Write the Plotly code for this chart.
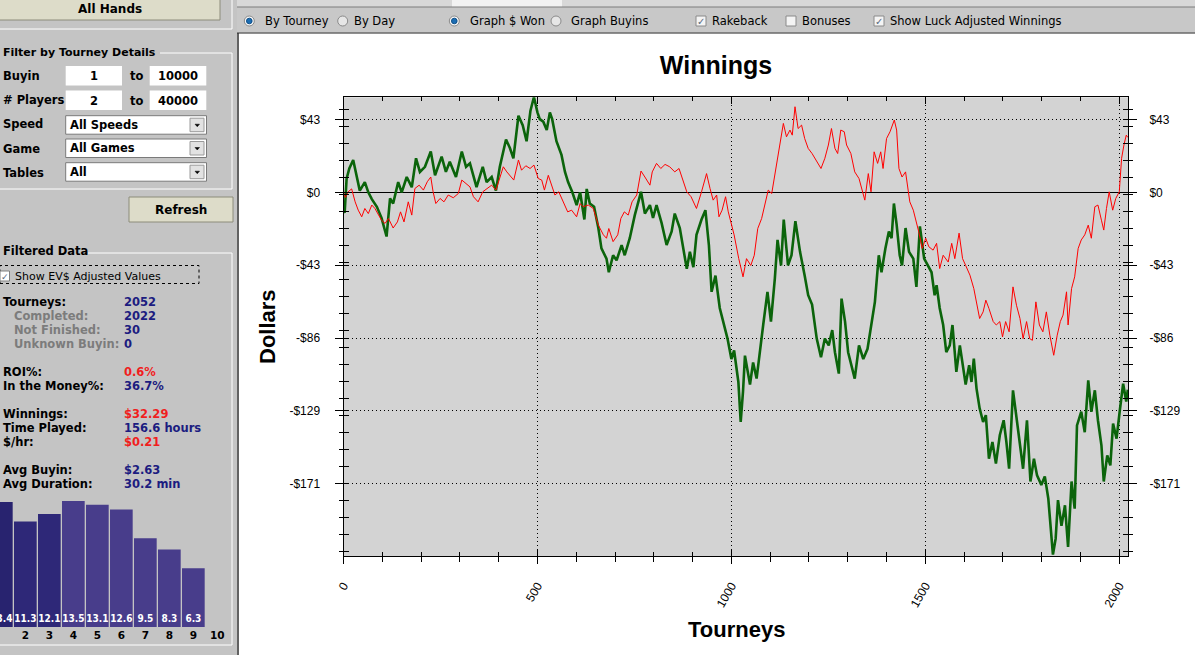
import plotly.graph_objects as go

W, H = 1195, 655

luck_x = [0, 3, 8, 15, 25, 32, 42, 55, 64, 73, 86, 98, 111, 120, 128, 141, 150, 163, 176, 187,
          197, 210, 225, 236, 253, 264, 274, 290, 305, 316, 326, 343, 359, 369, 382, 393, 403, 419, 429, 438,
          451, 462, 472, 482, 491, 500, 506, 515, 524, 532, 538, 549, 562, 571, 579, 590, 601, 610, 621, 627,
          635, 646, 657, 665, 678, 684, 695, 704, 717, 725, 738, 751, 767, 777, 790, 798, 807, 820, 833, 846,
          854, 867, 885, 893, 902, 910, 923, 933, 942, 949, 959, 970, 979, 990, 1000, 1007, 1018, 1024, 1030, 1035,
          1048, 1056, 1065, 1073, 1082, 1093, 1102, 1112, 1119, 1128, 1135, 1146, 1155, 1165, 1177, 1189, 1198, 1208, 1220, 1231,
          1241, 1251, 1260, 1267, 1277, 1284, 1293, 1301, 1311, 1318, 1329, 1340, 1351, 1361, 1370, 1380, 1387, 1397, 1406, 1413,
          1419, 1426, 1434, 1440, 1449, 1458, 1469, 1477, 1486, 1497, 1506, 1516, 1524, 1529, 1537, 1546, 1554, 1563, 1570, 1580,
          1589, 1597, 1604, 1613, 1619, 1625, 1632, 1640, 1649, 1656, 1664, 1673, 1682, 1692, 1702, 1709, 1716, 1726, 1737, 1744,
          1752, 1762, 1771, 1780, 1788, 1799, 1808, 1817, 1823, 1829, 1836, 1842, 1851, 1860, 1868, 1877, 1885, 1891, 1902, 1911,
          1920, 1928, 1937, 1945, 1954, 1960, 1969, 1977, 1984, 1993, 2001, 2010, 2018, 2022]
luck_y = [-11, -12, 8, 14, 19, 12, 1, 6, 0, -4, -8.5, -15, -26, -3.6, -6.6, 6, 0, 9, 3, 20,
          12, 15, 24, 10, 21, 12, 18, 9, 24, 15, 17, 3, 15, 6, 9, 1, 15, 31, 26, 20,
          45, 39.5, 30, 48, 56, 47, 43, 41.5, 36.6, 47, 43, 30, 22, 12, 6, 0, -7.5, 0, -16, 2,
          -6.6, -8.5, -21, -33, -39, -47, -37, -40, -31, -37, -27, -13.4, 0.3, -12.5, -7.5, -15, -7.5, -18, -31, -23,
          -12.5, -21, -45, -35, -44, -25, -16, -10.5, -31, -58.5, -49, -68, -76, -86, -98, -93, -111.5, -135, -117, -96,
          -113, -100, -109.5, -96, -78, -58.5, -76, -50.7, -28, -43, -16, -43, -37, -17, -35, -49, -60.5, -66, -86, -97,
          -86, -90, -81, -94, -106.6, -62.5, -76, -94, -103.6, -109.5, -90, -98, -92, -78, -64.4, -37, -47, -33, -23, -27,
          -6.6, -19, -37, -43, -21, -35, -39, -55.6, -20, -39, -43, -47, -60.5, -54.6, -68, -78, -94, -90, -78, -105.6,
          -90, -103.6, -113, -101.6, -111.5, -97.8, -115.4, -127, -135, -131, -156.6, -146.8, -159.5, -142.8, -134, -146.8, -162.5, -116.4, -137, -148.7,
          -162.5, -134, -170, -156.6, -166.4, -172, -167, -180, -196, -213, -203.6, -181, -196, -184, -208.5, -170, -186, -137, -129, -141,
          -110.5, -129, -116.4, -134, -148.7, -170, -154.6, -160.5, -136, -144.8, -129, -112.5, -123, -116]

won_x = [0, 5, 12, 21, 30, 38, 47, 55, 64, 73, 81, 90, 98, 107, 116, 128, 139, 147, 156, 167,
         176, 184, 195, 206, 216, 225, 231, 238, 249, 259, 270, 283, 296, 305, 316, 326, 335, 347, 359, 369,
         382, 393, 402, 412, 421, 431, 439, 451, 459, 470, 481, 491, 502, 511, 518, 528, 537, 545, 555, 567,
         578, 588, 601, 610, 618, 631, 644, 657, 670, 678, 684, 695, 707, 715, 724, 734, 744, 756, 767, 777,
         790, 796, 807, 818, 829, 841, 854, 865, 873, 885, 896, 910, 923, 936, 945, 953, 962, 968, 976, 985,
         992, 1000, 1007, 1019, 1030, 1039, 1050, 1059, 1068, 1078, 1086, 1095, 1104, 1112, 1121, 1129, 1134, 1142, 1151, 1157,
         1164, 1172, 1181, 1189, 1198, 1208, 1220, 1231, 1241, 1250, 1258, 1267, 1274, 1282, 1291, 1297, 1308, 1318, 1329, 1336,
         1344, 1353, 1360, 1368, 1377, 1385, 1391, 1400, 1409, 1420, 1426, 1432, 1440, 1449, 1456, 1460, 1469, 1477, 1483, 1492,
         1501, 1509, 1520, 1529, 1537, 1546, 1559, 1568, 1576, 1587, 1596, 1604, 1615, 1625, 1632, 1640, 1649, 1656, 1664, 1675,
         1683, 1692, 1699, 1707, 1716, 1726, 1735, 1744, 1752, 1761, 1769, 1776, 1785, 1794, 1803, 1812, 1821, 1831, 1840, 1848,
         1855, 1864, 1868, 1877, 1885, 1894, 1902, 1911, 1920, 1928, 1937, 1945, 1954, 1960, 1967, 1974, 1983, 1991, 2000, 2006,
         2012, 2018, 2022]
won_y = [0, -3, 0.3, 2, -5.6, -10.5, -14.4, -9.5, -12.5, -7.5, -9.5, -13.4, -16.4, -18.3, -15.4, -21, -17.4, -11.5, -17.4, -5.6,
         -13.4, 2.2, 4.2, 1.3, 6.2, 9, 0.3, -6.6, -3.6, -5.6, -1.6, -3.2, -0.7, 7.2, 5.2, 3.2, -2.6, -5.6, 0.3, 2.2,
         4.2, 1.3, 8.5, 15, 12, 9, 7.2, 19, 13, 15.6, 14, 16, 8.1, 7.2, 1.3, 10, 4.2, -1.6, 0.3, -5.6,
         -11.5, -10.5, -14.4, -6.6, -8.5, -7.5, -9.5, -19.3, -25, -27, -21.3, -29, -25, -15.4, -11.5, -13.4, -5.6, -1.6, 12.5, 9,
         4.2, 12, 17, 14, 16.4, 15, 12, 14, 8.1, 0.3, -2.6, -9.5, 0.3, 11, 2.2, -4.6, -1.6, -14.4, -10.5, -2.6,
         -11.5, -19.3, -25, -39, -49.7, -39, -43, -37, -21.3, -15.4, -7.5, 1.3, -0.7, 10, 22.8, 31.6, 40.5, 32.6, 36.6, 33.6,
         50.3, 37.5, 39.5, 31.6, 25.8, 22.8, 18, 14, 20, 27.8, 37.5, 25.8, 22.8, 36.6, 35.6, 27.8, 22.8, 12, 8.1, 2.2,
         -4.6, 11, 0.3, 23.8, 17, 23.8, 14, 31.6, 35.6, 42.5, 36.6, 14, 9, 12, 0.3, -5.6, -10.5, -17.4, -23.2, -33,
         -27, -32, -34, -30, -44.8, -37, -41, -30, -39, -24, -39, -43, -48.7, -56.6, -64.4, -74.2, -70.3, -63.4, -68.3, -76,
         -78, -76, -85, -76, -82, -55.6, -66.4, -74.2, -86, -76, -86, -87, -64.4, -78, -82, -70.3, -84, -95.8, -84, -76,
         -72.2, -58.5, -78, -56.6, -49.7, -33, -28, -25, -19.3, -27, -8.5, -7.5, -16.4, -22.2, -9.5, 0.3, -10.5, -3.6, 0.3, 20,
         27.8, 33.6, 32.3]

x_ticks = [0, 500, 1000, 1500, 2000]
y_step = 42.85
y_ticks = [y_step, 0, -y_step, -2 * y_step, -3 * y_step, -4 * y_step]
y_labels = ['$43', '$0', '-$43', '-$86', '-$129', '-$171']

# finishing position histogram (percent) in the side panel
place = [1, 2, 3, 4, 5, 6, 7, 8, 9]
place_pct = [13.4, 11.3, 12.1, 13.5, 13.1, 12.6, 9.5, 8.3, 6.3]

stats = [
    ('Tourneys:', '2052', '#1c1c80', 302, 0.5),
    ('Completed:', '2022', '#1c1c80', 316, 12),
    ('Not Finished:', '30', '#1c1c80', 330, 12),
    ('Unknown Buyin:', '0', '#1c1c80', 344, 12),
    ('ROI%:', '0.6%', '#f01e1e', 372, 0.5),
    ('In the Money%:', '36.7%', '#1c1c80', 386, 0.5),
    ('Winnings:', '$32.29', '#f01e1e', 414, 0.5),
    ('Time Played:', '156.6 hours', '#1c1c80', 428, 0.5),
    ('$/hr:', '$0.21', '#f01e1e', 442, 0.5),
    ('Avg Buyin:', '$2.63', '#1c1c80', 470, 0.5),
    ('Avg Duration:', '30.2 min', '#1c1c80', 484, 0.5),
]


def px(x):
    return x / W


def py(y):
    return 1 - y / H


shapes = []
annotations = []


def rect(x0, y0, x1, y1, fill, line=None, lw=1, dash='solid'):
    shapes.append(dict(type='rect', xref='paper', yref='paper', layer='below',
                       x0=px(x0), x1=px(x1), y0=py(y1), y1=py(y0), fillcolor=fill,
                       line=dict(color=line if line else fill, width=lw if line else 0, dash=dash)))


def seg(x0, y0, x1, y1, color, lw=1):
    shapes.append(dict(type='line', xref='paper', yref='paper', layer='below',
                       x0=px(x0), x1=px(x1), y0=py(y0), y1=py(y1), line=dict(color=color, width=lw)))


def circle(cx, cy, r, fill, line, lw=1):
    shapes.append(dict(type='circle', xref='paper', yref='paper', layer='below',
                       x0=px(cx - r), x1=px(cx + r), y0=py(cy + r), y1=py(cy - r),
                       fillcolor=fill, line=dict(color=line, width=lw)))


def label(x, y, s, size=11.5, color='black', anchor='left', bold=True, family='DejaVu Sans'):
    annotations.append(dict(x=px(x), y=py(y), xref='paper', yref='paper', text=s, showarrow=False,
                            xanchor=anchor, yanchor='middle',
                            font=dict(family=family, size=size, color=color,
                                      weight='bold' if bold else 'normal')))


panel = '#c4c4c4'
# side panel and toolbar backgrounds
rect(0, 0, 237, 655, panel)
rect(237, 0, 1195, 33, '#c8c8c8')
rect(237, 0, 1195, 7, '#d8d8d8')
rect(452, 0, 562, 7, '#f2f2f2')
seg(237, 7, 1195, 7, '#7c7c7c')
seg(237, 33, 1195, 33, '#6a6a6a', 1.5)
seg(238, 33, 238, 655, '#2e2e2e', 1.5)

# toolbar radio buttons / check boxes
for cx, on in [(249.3, True), (342.7, False), (454.3, True), (556, False)]:
    circle(cx, 21, 5, '#f4f4f4' if on else '#e6e6e6', '#8a8a8a')
    if on:
        circle(cx, 21, 2.8, '#1b6db3', '#0f4f88')
for s, x in [('By Tourney', 262.5), ('By Day', 352), ('Graph $ Won', 467.5), ('Graph Buyins', 568.5)]:
    label(x, 21, s, bold=False)
for x0, on, s in [(696, True, 'Rakeback'), (786, False, 'Bonuses'), (874, True, 'Show Luck Adjusted Winnings')]:
    rect(x0, 16, x0 + 10, 26, '#f4f4f4', '#8a8a8a')
    if on:
        label(x0 + 5, 21.5, '✓', size=10, color='#5a6a80', anchor='center', bold=False)
    label(x0 + 14, 21, s, bold=False)

# left panel: buttons and filter box
rect(-2, -2, 220, 20, '#dddcc9', '#8c8c7a')
label(110, 9, 'All Hands', size=12, anchor='center')
seg(232, 0, 232, 29, 'white')
seg(0, 29, 232, 29, 'white')

label(0.5, 52, 'Filter by Tourney Details', size=11)
seg(160, 53, 232, 53, 'white')
seg(232, 53, 232, 189, 'white')
seg(0, 189, 232, 189, 'white')
for s, y in [('Buyin', 76), ('# Players', 100), ('Speed', 124), ('Game', 149), ('Tables', 173)]:
    label(0.5, y, s)
for y0, lo, hi in [(66, '1', '10000'), (90.5, '2', '40000')]:
    rect(65.7, y0, 122, y0 + 19.5, 'white')
    rect(149.7, y0, 206.3, y0 + 19.5, 'white')
    label(94, y0 + 10, lo, anchor='center')
    label(178, y0 + 10, hi, anchor='center')
    label(136, y0 + 10, 'to', anchor='center')
for y0, s in [(115.7, 'All Speeds'), (139, 'All Games'), (162.7, 'All')]:
    rect(65.7, y0, 206.5, y0 + 18.5, 'white', '#7a7a7a')
    rect(190, y0 + 2.5, 204, y0 + 16, '#e2e2e2', '#9a9a9a')
    shapes.append(dict(type='path', xref='paper', yref='paper', layer='below',
                       path='M %f %f L %f %f L %f %f Z' % (px(195), py(y0 + 8.5), px(199.5), py(y0 + 8.5),
                                                          px(197.25), py(y0 + 11)),
                       fillcolor='black', line=dict(color='black', width=0.5)))
    label(68, y0 + 9, s)
rect(129, 197, 233, 222, '#dddcc9', '#8c8c7a')
label(181, 209.5, 'Refresh', size=12, anchor='center')

# filtered data box
label(0.5, 251, 'Filtered Data')
seg(88, 253, 232, 253, 'white')
seg(232, 253, 232, 645, 'white')
seg(0, 645, 232, 645, 'white')
rect(0, 265.5, 199, 283.5, 'rgba(0,0,0,0)', 'black', 1, 'dot')
rect(0, 271, 9.5, 281, 'white', '#808080')
label(4.5, 276.5, '✓', size=9, color='#5a6a80', anchor='center', bold=False)
label(13, 276, 'Show EV$ Adjusted Values', size=11, bold=False)
for name, val, col, y, x0 in stats:
    label(x0, y, name, color='#7c7c7c' if x0 > 5 else 'black')
    label(122, y, val, color=col)

fig = go.Figure()
fig.add_trace(go.Scatter(x=luck_x, y=luck_y, mode='lines', xaxis='x', yaxis='y',
                         line=dict(color='#0b640b', width=2.6), hoverinfo='skip'))
fig.add_trace(go.Scatter(x=won_x, y=won_y, mode='lines', xaxis='x', yaxis='y',
                         line=dict(color='#ff0000', width=1), hoverinfo='skip'))
# empty traces so the overlaid label axes get drawn
for xa, ya in [('x2', 'y'), ('x', 'y2'), ('x', 'y3')]:
    fig.add_trace(go.Scatter(x=[], y=[], xaxis=xa, yaxis=ya, hoverinfo='skip'))
fig.add_trace(go.Bar(x=place, y=place_pct, xaxis='x3', yaxis='y4',
                     marker=dict(color=['#28236f', '#2e2878', '#2e2878'] + ['#483d8b'] * 6, line=dict(width=0)),
                     texttemplate='<b>%{y}</b>', textposition='inside', insidetextanchor='start', textangle=0,
                     textfont=dict(family='DejaVu Sans Condensed', size=10, color='white'), hoverinfo='skip'))

x_dom = [px(343.5), px(1128)]
y_dom = [py(556), py(97.3)]
x_rng = [0, 2022.5]
y_rng = [-213.8, 55.85]
tick_font = dict(family='Liberation Sans', size=12, color='black')
dots = '1px,3px'

fig.update_layout(
    width=W, height=H,
    margin=dict(l=0, r=0, t=0, b=0),
    paper_bgcolor='white',
    plot_bgcolor='#d3d3d3',
    showlegend=False,
    hovermode=False,
    title=dict(text='<b>Winnings</b>', x=px(716), y=py(65), xanchor='center', yanchor='middle',
               font=dict(family='Liberation Sans', size=25, color='black')),
    xaxis=dict(domain=x_dom, range=x_rng, anchor='y', tickvals=x_ticks, showticklabels=False,
               ticks='inside', ticklen=7, tickcolor='black', automargin=False,
               minor=dict(tick0=0, dtick=100, ticks='inside', ticklen=4, tickcolor='black'),
               showline=True, linecolor='black', linewidth=1, mirror='ticks',
               showgrid=True, gridcolor='black', griddash=dots, gridwidth=1, zeroline=False),
    xaxis2=dict(overlaying='x', anchor='y', side='bottom', range=x_rng, tickvals=x_ticks,
                ticktext=[str(v) for v in x_ticks], tickangle=-60, tickfont=tick_font,
                ticks='outside', ticklen=7, tickcolor='black', ticklabelstandoff=10, automargin=False,
                minor=dict(tick0=0, dtick=100, ticks='outside', ticklen=5, tickcolor='black'),
                showline=False, showgrid=False, zeroline=False),
    yaxis=dict(domain=y_dom, range=y_rng, anchor='x', tickvals=y_ticks, showticklabels=False,
               ticks='inside', ticklen=5, tickcolor='black', automargin=False,
               minor=dict(tick0=-4 * y_step, dtick=10, ticks='inside', ticklen=5, tickcolor='black'),
               showline=True, linecolor='black', linewidth=1, mirror='ticks',
               showgrid=True, gridcolor='black', griddash=dots, gridwidth=1,
               zeroline=True, zerolinecolor='black', zerolinewidth=1),
    yaxis2=dict(overlaying='y', anchor='x', side='left', range=y_rng, tickvals=y_ticks, ticktext=y_labels,
                tickfont=tick_font, ticks='outside', ticklen=8, tickcolor='black', ticklabelstandoff=12,
                minor=dict(tick0=-4 * y_step, dtick=10, ticks='outside', ticklen=4, tickcolor='black'),
                showline=False, showgrid=False, zeroline=False, automargin=False),
    yaxis3=dict(overlaying='y', anchor='x', side='right', range=y_rng, tickvals=y_ticks, ticktext=y_labels,
                tickfont=tick_font, ticks='outside', ticklen=8, tickcolor='black', ticklabelstandoff=10,
                minor=dict(tick0=-4 * y_step, dtick=10, ticks='outside', ticklen=4, tickcolor='black'),
                showline=False, showgrid=False, zeroline=False, automargin=False),
    xaxis3=dict(domain=[0, px(236)], range=[0.944, 10.777], anchor='y4', tickvals=list(range(1, 11)),
                tickfont=dict(family='DejaVu Sans', size=10.5, color='black', weight='bold'),
                ticks='', showline=False, showgrid=False, zeroline=False, automargin=False),
    yaxis4=dict(domain=[py(627), py(500)], range=[0, 13.61], anchor='x3', visible=False, automargin=False),
    bargap=0.055,
    uniformtext=dict(minsize=10, mode='show'),
    shapes=shapes,
    annotations=annotations + [
        dict(x=px(267), y=py(327), xref='paper', yref='paper', text='<b>Dollars</b>', textangle=-90,
             xanchor='center', yanchor='middle', showarrow=False,
             font=dict(family='Liberation Sans', size=22, color='black')),
        dict(x=px(736), y=py(629), xref='paper', yref='paper', text='<b>Tourneys</b>',
             xanchor='center', yanchor='middle', showarrow=False,
             font=dict(family='Liberation Sans', size=22, color='black')),
    ],
)

fig.write_html("out.html", config={'displayModeBar': False},
               post_script="document.body.style.margin = '0';")
